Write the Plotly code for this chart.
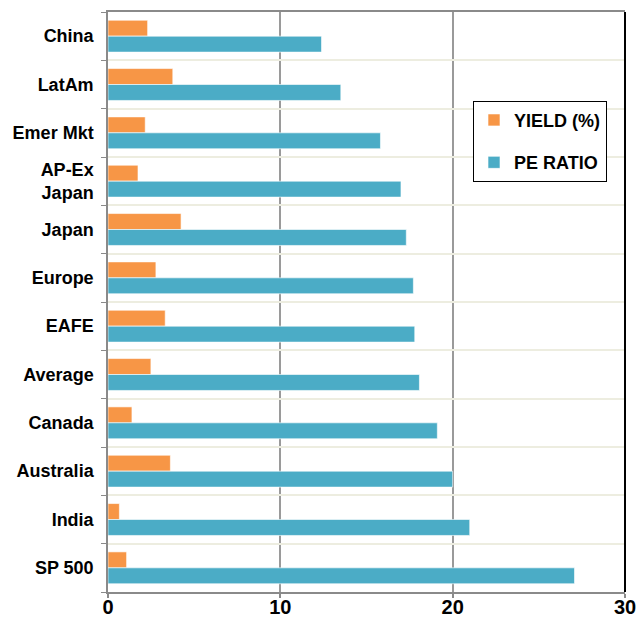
import plotly.graph_objects as go

categories = ["China", "LatAm", "Emer Mkt", "AP-Ex<br>Japan", "Japan", "Europe",
              "EAFE", "Average", "Canada", "Australia", "India", "SP 500"]
yield_pct = [2.3, 3.76, 2.16, 1.74, 4.24, 2.78, 3.32, 2.49, 1.39, 3.62, 0.66, 1.08]
pe_ratio = [12.39, 13.51, 15.81, 17.0, 17.31, 17.72, 17.8, 18.07, 19.11, 20.0, 20.99, 27.07]
x_ticks = [0, 10, 20, 30]

ORANGE = "#F79646"
BLUE = "#4BACC6"
FONT = "Liberation Sans, Arial, Helvetica, sans-serif"

fig = go.Figure()
fig.add_trace(go.Bar(
    y=categories, x=yield_pct, orientation="h", name="<b>YIELD (%)</b>",
    marker=dict(color=ORANGE, line=dict(color="rgba(255,255,255,0.6)", width=1)),
    legendgroup="a"))
fig.add_trace(go.Bar(
    y=categories, x=pe_ratio, orientation="h", name="<b>PE RATIO</b>",
    marker=dict(color=BLUE, line=dict(color="rgba(255,255,255,0.6)", width=1)),
    legendgroup="b"))

fig.update_layout(
    width=639, height=618,
    margin=dict(l=107.5, r=13.5, t=11.5, b=26, autoexpand=False),
    paper_bgcolor="white", plot_bgcolor="white",
    barmode="group", bargap=0.34, bargroupgap=0,
    font=dict(family=FONT, color="black"),
    legend=dict(
        x=0.706, y=0.847, xanchor="left", yanchor="top",
        bordercolor="black", borderwidth=1, bgcolor="white",
        font=dict(size=18, family=FONT, color="black"),
        traceorder="grouped", tracegroupgap=16, itemwidth=30,
    ),
    xaxis=dict(
        range=[0, 30], tickvals=x_ticks, ticktext=[f"<b>{v}</b>" for v in x_ticks],
        tickfont=dict(size=20, family=FONT, color="black"),
        showgrid=True, gridcolor="#9a9a9a", gridwidth=1.5,
        showline=True, linecolor="#8a8a8a", linewidth=2, mirror=True,
        ticks="outside", ticklen=4, tickcolor="#8a8a8a", tickwidth=1.5,
        ticklabelstandoff=-8,
        zeroline=False, fixedrange=True, automargin=False,
    ),
    yaxis=dict(
        categoryorder="array", categoryarray=categories, autorange="reversed",
        tickvals=categories, ticktext=[f"<b>{c}</b>" for c in categories],
        tickfont=dict(size=18, family=FONT, color="black"),
        tickson="boundaries", ticks="outside", ticklen=5, tickcolor="#8a8a8a", tickwidth=1,
        showgrid=True, gridcolor="#EDEDE0", gridwidth=1.5,
        showline=True, linecolor="#8a8a8a", linewidth=1.5,
        ticklabelstandoff=9, fixedrange=True, automargin=False,
    ),
)

fig.add_shape(type="line", xref="paper", yref="paper", x0=1, x1=1, y0=0, y1=1,
              line=dict(color="black", width=2))

fig.write_html("out.html", config={"displayModeBar": False},
               post_script="document.body.style.margin='0px';document.body.style.overflow='hidden';")
